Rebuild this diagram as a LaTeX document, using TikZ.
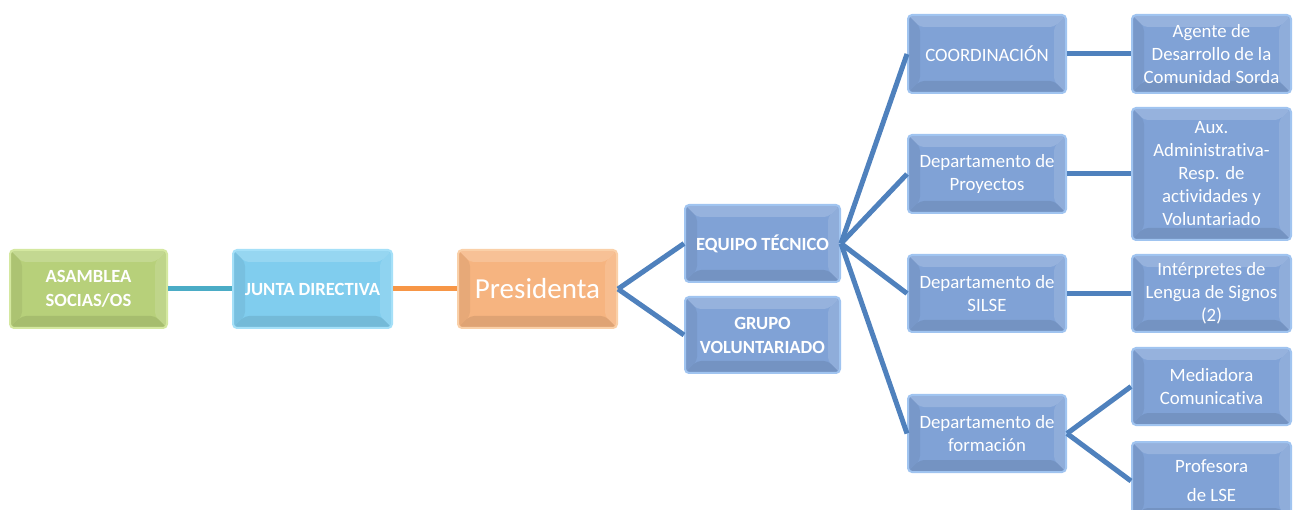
\documentclass[tikz,border=0pt]{standalone}
\usepackage{fontspec}
\setmainfont{Carlito}[Ligatures=NoCommon]
\usetikzlibrary{calc}
\definecolor{bface}{RGB}{128,162,214}
\definecolor{bedge}{RGB}{160,196,240}
\definecolor{gface}{RGB}{183,208,122}
\definecolor{gedge}{RGB}{212,232,160}
\definecolor{lface}{RGB}{128,205,238}
\definecolor{ledge}{RGB}{165,224,248}
\definecolor{oface}{RGB}{246,180,128}
\definecolor{oedge}{RGB}{250,208,168}
\definecolor{lineblue}{RGB}{79,129,189}
\definecolor{lineteal}{RGB}{75,172,198}
\definecolor{lineorange}{RGB}{247,150,70}
\tikzset{
  bevel/.style={path picture={
    \coordinate (nw) at (path picture bounding box.north west);
    \coordinate (ne) at (path picture bounding box.north east);
    \coordinate (sw) at (path picture bounding box.south west);
    \coordinate (se) at (path picture bounding box.south east);
    \fill[white,opacity=.18] (nw) -- (ne) -- ([xshift=-12pt,yshift=-12pt]ne) -- ([xshift=12pt,yshift=-12pt]nw) -- cycle;
    \fill[white,opacity=.12] (ne) -- (se) -- ([xshift=-12pt,yshift=12pt]se) -- ([xshift=-12pt,yshift=-12pt]ne) -- cycle;
    \fill[black,opacity=.06] (nw) -- (sw) -- ([xshift=12pt,yshift=12pt]sw) -- ([xshift=12pt,yshift=-12pt]nw) -- cycle;
    \fill[black,opacity=.09] (sw) -- (se) -- ([xshift=-12pt,yshift=12pt]se) -- ([xshift=12pt,yshift=12pt]sw) -- cycle;
  }},
  box/.style={rectangle, rounded corners=4pt, line width=2pt, text=white,
    align=center, inner sep=2pt, font=\fontsize{18.8}{23}\selectfont, bevel},
  bbox/.style={box, fill=bface, draw=bedge, minimum width=158pt, minimum height=77pt},
  bold/.style={font=\fontsize{18.6}{24}\bfseries\selectfont},
  conn/.style={line width=5pt},
}
\begin{document}
\begin{tikzpicture}[x=1pt,y=-1pt]
\clip (0,0) rectangle (1293,510);
\fill[white] (0,0) rectangle (1293,510);
% left chain
\node[box, bold, fill=gface, draw=gedge, minimum width=157pt, minimum height=78pt] (asam) at (88.5,289) {ASAMBLEA\\SOCIAS/OS};
\node[box, bold, fill=lface, draw=ledge, minimum width=159pt, minimum height=78pt] (junta) at (312.5,289) {JUNTA DIRECTIVA};
\node[box, fill=oface, draw=oedge, minimum width=159pt, minimum height=78pt, font=\fontsize{29}{31}\selectfont] (pres) at (537.5,289) {Presidenta};
% middle
\node[bbox, bold, minimum width=155pt] (equipo) at (762.5,243.5) {EQUIPO TÉCNICO};
\node[bbox, bold, minimum width=155pt, minimum height=76pt] (grupo) at (762.5,335) {GRUPO\\VOLUNTARIADO};
% departments
\node[bbox, minimum height=78pt] (coord) at (987,54) {COORDINACIÓN};
\node[bbox, minimum height=78pt] (proy) at (987,174) {Departamento de\\Proyectos};
\node[bbox] (silse) at (987,293.5) {Departamento de\\SILSE};
\node[bbox] (form) at (987,433.5) {Departamento de\\formación};
% staff
\node[bbox, minimum width=159pt, minimum height=78pt] (agente) at (1211.5,54) {Agente de\\Desarrollo de la\\Comunidad Sorda};
\node[bbox, minimum width=159pt, minimum height=132pt] (aux) at (1211.5,174) {Aux.\\Administrativa-\\Resp. de\\actividades y\\Voluntariado};
\node[bbox, minimum width=159pt] (interp) at (1211.5,293.5) {Intérpretes de\\Lengua de Signos\\(2)};
\node[bbox, minimum width=159pt] (mediad) at (1211.5,386.5) {Mediadora\\Comunicativa};
\node[bbox, minimum width=159pt, minimum height=78pt, font=\fontsize{18.8}{29}\selectfont] (prof) at (1211.5,481) {Profesora\\de LSE};
% connectors
\draw[conn, lineteal] (asam.east) -- (junta.west);
\draw[conn, lineorange] (junta.east) -- (pres.west);
\draw[conn, lineblue] (pres.east) -- (equipo.west);
\draw[conn, lineblue] (pres.east) -- (grupo.west);
\draw[conn, lineblue] (equipo.east) -- (coord.west);
\draw[conn, lineblue] (equipo.east) -- (proy.west);
\draw[conn, lineblue] (equipo.east) -- (silse.west);
\draw[conn, lineblue] (equipo.east) -- (form.west);
\draw[conn, lineblue] (coord.east) -- (agente.west);
\draw[conn, lineblue] (proy.east) -- (aux.west);
\draw[conn, lineblue] (silse.east) -- (interp.west);
\draw[conn, lineblue] (form.east) -- (mediad.west);
\draw[conn, lineblue] (form.east) -- (prof.west);
\end{tikzpicture}
\end{document}
